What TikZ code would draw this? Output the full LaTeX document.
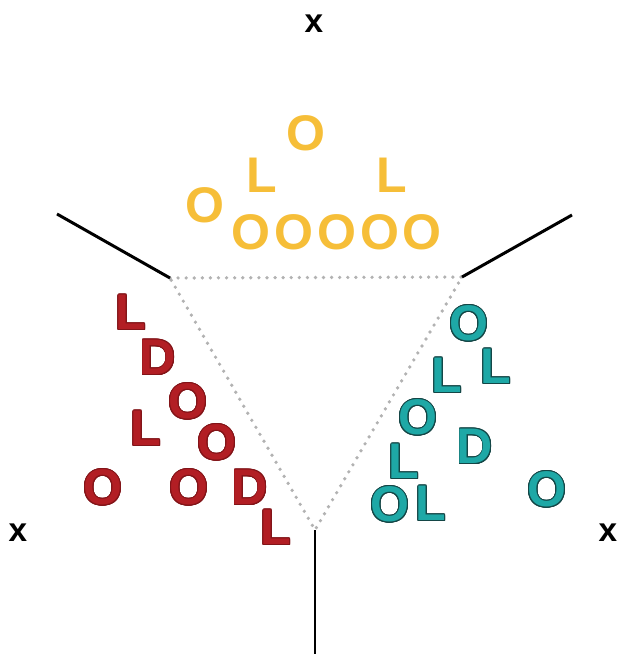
\documentclass[tikz,border=0pt]{standalone}
\usepackage{fontspec}
\setmainfont{Liberation Sans}
\usepackage{contour}
\contourlength{0.5pt}

\definecolor{letteryellow}{RGB}{246,190,56}
\definecolor{letterred}{RGB}{178,30,36}
\definecolor{rededge}{RGB}{130,20,24}
\definecolor{letterteal}{RGB}{30,168,166}
\definecolor{tealedge}{RGB}{20,70,70}

\begin{document}
\begin{tikzpicture}[
  x=0.02cm, y=-0.02cm,
  letter/.style={inner sep=0pt, font=\fontsize{28.5}{30}\selectfont\bfseries},
  yellowletter/.style={letter, text=letteryellow},
  redletter/.style={letter, text=letterred},
  tealletter/.style={letter, text=letterteal},
  axislabel/.style={inner sep=0pt, font=\fontsize{19}{20}\selectfont\bfseries},
  border/.style={line width=1.7pt, black},
  boundary/.style={gray!60, line width=2.1pt, line cap=round, dash pattern=on 0pt off 4.6pt}
]
\useasboundingbox (0,0) rectangle (621,654);

% ================= CORNERS =================
\coordinate (cA) at (170,278);
\coordinate (cB) at (462,277);
\coordinate (cC) at (315,530);
\coordinate (eA) at (57,214);
\coordinate (eB) at (572,215);
\coordinate (eC) at (315,654);

% dotted boundary
\draw[boundary] (cA) -- (cB) -- (cC) -- cycle;

% solid borders
\draw[border] (eA) -- (cA);
\draw[border] (eB) -- (cB);
\draw[border] (cC) -- (eC);

% ================= AXIS LABELS =================
\node[axislabel] (xtop)   at (314,24)  {x};
\node[axislabel] (xleft)  at (18,533)  {x};
\node[axislabel] (xright) at (608,533) {x};

% ================= TOP GROUP =================
\foreach \ch/\x/\y [count=\i] in {
  O/306/133, L/262/175, L/392/175, O/205/205,
  O/251/232, O/294/232, O/337/232, O/380/232, O/422/232}
{
  \node[yellowletter] (top\i) at (\x,\y) {\ch};
}

% ================= LEFT GROUP =================
\foreach \ch/\x/\y [count=\i] in {
  L/131/313, D/158/358, O/188/402, L/146/429, O/217/443,
  O/103/488, O/189/488, D/250/488, L/276/528}
{
  \node[redletter] (left\i) at (\x,\y) {\contour{rededge}{\ch}};
}

% ================= RIGHT GROUP =================
\foreach \ch/\x/\y [count=\i] in {
  O/469/324, L/496/367, L/447/376, O/418/418, D/475/447,
  L/404/462, O/390/505, L/431/504, O/547/490}
{
  \node[tealletter] (right\i) at (\x,\y) {\contour{tealedge}{\ch}};
}

\end{tikzpicture}
\end{document}
